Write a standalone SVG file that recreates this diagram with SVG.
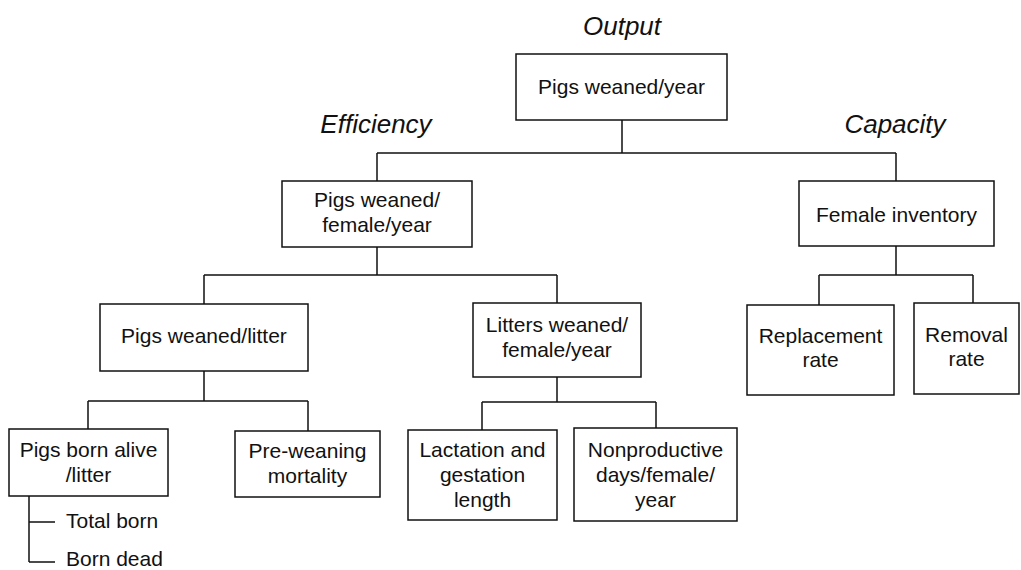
<svg xmlns="http://www.w3.org/2000/svg" width="1021" height="570" viewBox="0 0 1021 570">
<style>
rect.box{fill:#fff;stroke:#111;stroke-width:1.5}
.c path{fill:none;stroke:#111;stroke-width:1.5}
text{font-family:"Liberation Sans",Arial,sans-serif;font-size:21px;fill:#111;text-anchor:middle}
text.h{font-style:italic;font-size:26px}
text.l{text-anchor:start}
</style>
<rect width="1021" height="570" fill="#fff"/>
<g class="c" id="connectors">
<path d="M622 120V153M377 153H896M377 153V181M896 153V181"/>
<path d="M377 247V275M204 275H557M204 275V304M557 275V303"/>
<path d="M204 371V401M88 401H308M88 401V429M308 401V431"/>
<path d="M557 377V402M482 402H656M482 402V430M656 402V428"/>
<path d="M896 246V275M819 275H973M819 275V305M973 275V303"/>
<path d="M29 496V562M29 522H55M29 562H55"/>
</g>
<text class="h" x="622" y="35">Output</text>
<text class="h" x="376" y="133">Efficiency</text>
<text class="h" x="895" y="133">Capacity</text>
<g id="n-output"><rect class="box" x="516" y="54" width="211" height="66"/><text x="621.5" y="94">Pigs weaned/year</text></g>
<g id="n-pwfy"><rect class="box" x="282" y="181" width="190" height="66"/><text x="377" y="207">Pigs weaned/</text><text x="377" y="232">female/year</text></g>
<g id="n-female"><rect class="box" x="799" y="181" width="195" height="65"/><text x="896.5" y="222">Female inventory</text></g>
<g id="n-pwl"><rect class="box" x="100" y="304" width="208" height="67"/><text x="204" y="343">Pigs weaned/litter</text></g>
<g id="n-lwfy"><rect class="box" x="473" y="303" width="168" height="74"/><text x="557" y="332">Litters weaned/</text><text x="557" y="357">female/year</text></g>
<g id="n-repl"><rect class="box" x="747" y="305" width="147" height="90"/><text x="820.5" y="343">Replacement</text><text x="820.5" y="367">rate</text></g>
<g id="n-remo"><rect class="box" x="914" y="303" width="105" height="91"/><text x="966.5" y="342">Removal</text><text x="966.5" y="366">rate</text></g>
<g id="n-pba"><rect class="box" x="9" y="429" width="159" height="67"/><text x="88.5" y="457">Pigs born alive</text><text x="88.5" y="482">/litter</text></g>
<g id="n-prew"><rect class="box" x="235" y="431" width="145" height="66"/><text x="307.5" y="458">Pre-weaning</text><text x="307.5" y="483">mortality</text></g>
<g id="n-lact"><rect class="box" x="408" y="430" width="149" height="90"/><text x="482.5" y="457">Lactation and</text><text x="482.5" y="482">gestation</text><text x="482.5" y="507">length</text></g>
<g id="n-nonp"><rect class="box" x="574" y="428" width="163" height="93"/><text x="655.5" y="457">Nonproductive</text><text x="655.5" y="482">days/female/</text><text x="655.5" y="507">year</text></g>
<g id="n-total"><text class="l" x="66" y="528">Total born</text></g>
<g id="n-dead"><text class="l" x="66" y="566">Born dead</text></g>
</svg>
